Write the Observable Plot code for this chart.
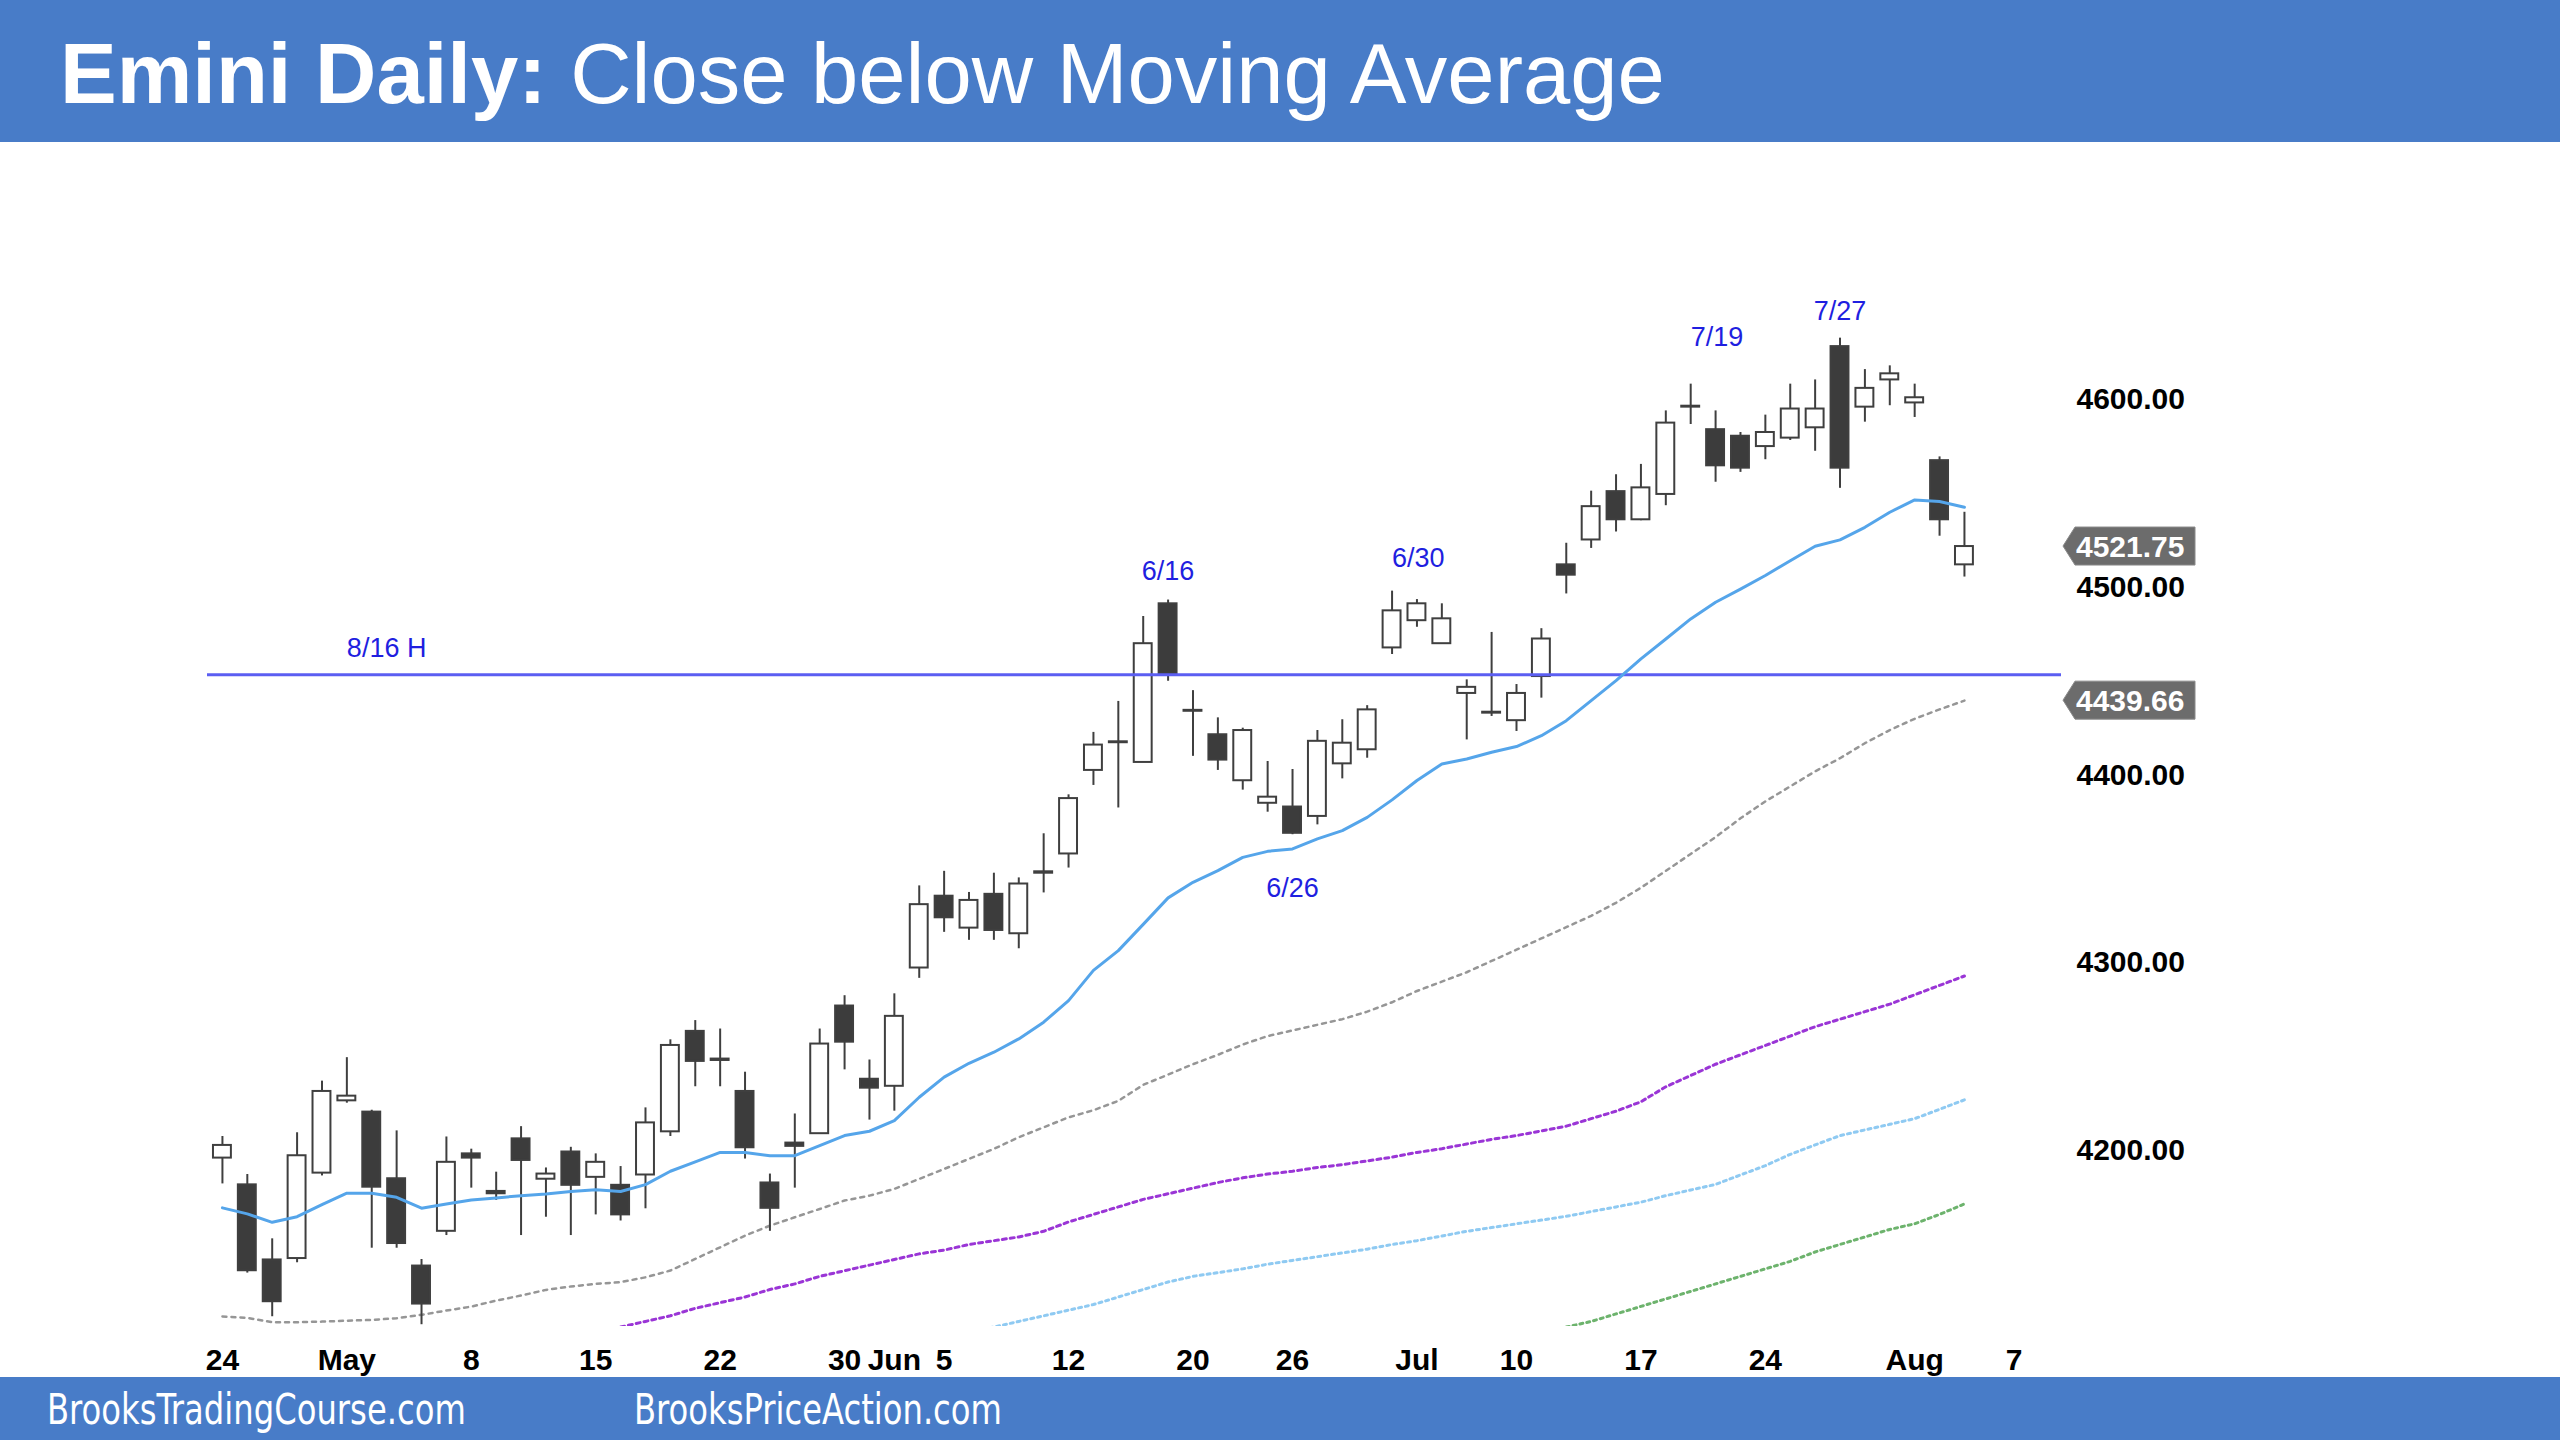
<!DOCTYPE html>
<html><head><meta charset="utf-8">
<script src="https://cdn.jsdelivr.net/npm/d3@7"></script>
<script src="https://cdn.jsdelivr.net/npm/@observablehq/plot@0.6"></script>
<style>
html,body{margin:0;padding:0;background:#fff;width:2560px;height:1440px;overflow:hidden}
#title{height:142px;background:#487cc8;color:#fff;font-family:"Liberation Sans",Arial,sans-serif;font-size:85px;display:flex;align-items:center;padding-left:60px;padding-top:6px;box-sizing:border-box;white-space:nowrap}
#title b{font-weight:bold}
#chart{height:1235px;line-height:0}
#footer{height:63px;background:#487cc8;color:#fff;font-family:"Liberation Sans Narrow","DejaVu Sans Condensed",sans-serif;font-size:42px;position:relative}
#footer span{position:absolute;top:50%;transform-origin:0 50%;transform:translateY(-50%) scaleX(0.853);white-space:nowrap}
</style></head>
<body>
<div id="title"><b>Emini Daily:</b>&nbsp;Close below Moving Average</div>
<div id="chart"></div>
<div id="footer"><span style="left:47px">BrooksTradingCourse.com</span><span style="left:634px">BrooksPriceAction.com</span></div>
<script>
// trading days (71 candles + 2 future axis days)
const days = [
"2023-04-24","2023-04-25","2023-04-26","2023-04-27","2023-04-28",
"2023-05-01","2023-05-02","2023-05-03","2023-05-04","2023-05-05",
"2023-05-08","2023-05-09","2023-05-10","2023-05-11","2023-05-12",
"2023-05-15","2023-05-16","2023-05-17","2023-05-18","2023-05-19",
"2023-05-22","2023-05-23","2023-05-24","2023-05-25","2023-05-26",
"2023-05-30","2023-05-31","2023-06-01","2023-06-02",
"2023-06-05","2023-06-06","2023-06-07","2023-06-08","2023-06-09",
"2023-06-12","2023-06-13","2023-06-14","2023-06-15","2023-06-16",
"2023-06-20","2023-06-21","2023-06-22","2023-06-23",
"2023-06-26","2023-06-27","2023-06-28","2023-06-29","2023-06-30",
"2023-07-03","2023-07-05","2023-07-06","2023-07-07",
"2023-07-10","2023-07-11","2023-07-12","2023-07-13","2023-07-14",
"2023-07-17","2023-07-18","2023-07-19","2023-07-20","2023-07-21",
"2023-07-24","2023-07-25","2023-07-26","2023-07-27","2023-07-28",
"2023-07-31","2023-08-01","2023-08-02","2023-08-03",
"2023-08-04","2023-08-07"];

const open = [4196,4181.75,4141.75,4142.5,4188,4226.5,4220.5,4185,4138.5,4157,
4198.25,4178.25,4206.25,4184.75,4199.25,4185.75,4181.5,4187,4210,4263.5,
4248,4231.5,4182.75,4204,4209,4277,4238,4234.25,4297.25,4335.5,
4318.5,4336.5,4315.5,4348.5,4358,4402.5,4417.75,4406.75,4491.25,4434.5,
4421.5,4397,4385,4383,4378,4406,4413.5,4467.75,4482.25,4470,
4443.5,4433.5,4429,4452.5,4512,4525.25,4551,4536,4549.5,4596,
4584,4580.5,4575,4579.5,4585,4628.25,4596,4610.5,4598.25,4567.5,
4512];
const high = [4207.5,4187.25,4153,4209.5,4237,4249.5,4221.5,4210.5,4142,4207.25,
4200.75,4188.5,4212.75,4190.75,4201.75,4198.25,4191.5,4222.75,4259,4269.25,
4264.75,4241.75,4187.5,4219.5,4264.75,4282.5,4248.25,4283.5,4341,4348.75,
4337.5,4347.75,4345.25,4368.75,4389.5,4422.75,4439.25,4484.5,4493.25,4445,
4430.5,4425,4407.25,4403,4423.75,4429.5,4437,4498,4493.5,4491.25,
4450.75,4476,4448.25,4478,4523.5,4551.25,4560,4565.5,4594,4608.25,
4594,4582.5,4591.75,4608.25,4610.5,4632.75,4616,4618,4608.25,4569.5,
4540];
const low = [4182.25,4134.75,4111.5,4140.25,4186.5,4225.25,4148,4148,4107.25,4154.75,
4180,4173.5,4154.75,4164.5,4154.75,4165.75,4162.5,4169,4207.5,4234,
4234,4195.5,4157,4180,4208.75,4243,4216.25,4221,4291.75,4316.25,
4312,4312,4307.5,4337.25,4350.5,4394.5,4382.5,4406.75,4450,4410,
4402.5,4392,4380.25,4368.25,4373.5,4398,4409,4464.25,4478.75,4470,
4418.75,4431.25,4423.25,4441,4496.5,4520.75,4529.5,4535.5,4543.5,4586.75,
4556,4561.25,4568,4578.25,4572.5,4552.75,4588,4596.75,4590.5,4527.25,
4505.5];
const close = [4202.75,4136,4119.5,4197.25,4231.5,4229,4180.5,4150.5,4118.25,4193.75,
4196,4177,4194.75,4187.5,4181.5,4193.75,4165.75,4214.75,4256,4247.5,
4248.75,4201.5,4169.25,4202.25,4256.75,4257.75,4233.25,4271.5,4331,4324,
4333.25,4317.25,4342,4347.75,4387.5,4416,4417.25,4470,4454,4434,
4408,4423.75,4388.25,4369,4418,4417,4434.75,4487.5,4491.25,4483.25,
4446.75,4433,4443.5,4472.5,4506.5,4543,4536,4553,4587.5,4596.5,
4564.75,4563.5,4582.5,4595,4595,4563.5,4606,4613.75,4601,4536,
4521.75];

// moving averages
const maBlue = [4169.5,4166.3,4161.8,4164.8,4171.2,4177.3,4177.3,4175.1,4169.3,4171.6,
4173.7,4174.8,4176.0,4176.9,4178.2,4179.2,4178.2,4181.9,4189.0,4194.0,
4199.0,4199.0,4197.3,4197.3,4202.7,4208.0,4210.3,4216.0,4228.4,4239.1,
4246.5,4252.4,4259.5,4268.4,4279.9,4296.0,4306.5,4320.5,4334.6,4342.9,
4349.1,4356.2,4359.4,4360.7,4366.0,4370.4,4377.5,4386.8,4397.1,4405.9,
4408.6,4412.2,4415.2,4421.0,4429.0,4439.7,4450.3,4461.9,4472.5,4483.2,
4492.1,4499.1,4506.3,4514.2,4521.9,4525.3,4532.0,4540.0,4546.6,4545.7,
4542.7];
const maGray = [4111.6,4110.9,4108.6,4108.6,4108.9,4109.4,4109.8,4110.7,4112.5,4114.8,
4116.9,4120.1,4122.8,4125.8,4127.6,4129.0,4129.9,4132.5,4136.1,4142.3,
4148.5,4154.7,4160.0,4164.5,4168.9,4173.4,4176.0,4179.6,4184.9,4190.2,
4195.6,4200.9,4207.1,4212.4,4217.7,4221.5,4226.5,4235.0,4240.5,4246.0,
4251.0,4256.5,4261.0,4264.0,4267.0,4270.0,4274.0,4279.0,4285.0,4290.0,
4295.0,4301.0,4307.0,4313.0,4319.0,4325.0,4332.0,4340.0,4349.0,4358.0,
4367.0,4377.0,4386.0,4394.0,4402.0,4409.0,4417.0,4424.0,4430.0,4435.0,
4439.66];
const purpleStart = "2023-05-16";
const maPurple = [4106,4109,4112,4116,4119,4122,4126,4129,4133,4136,
4139,4142,4145,4147,4150,4152,4154,4157,4162,4166,
4170,4174,4177,4180,4183,4185.5,4187.5,4189,4191,4192.5,
4194.5,4196.5,4199,4201,4203.5,4206,4208,4210.5,4213,4217,
4221,4226,4234,4240,4246,4251,4256,4261,4266,4270,
4274,4278,4283,4288,4293];
const lightStart = "2023-06-06";
const maLight = [4104,4106,4109,4112,4115,4118,4122,4126,4130,4133,
4135,4137,4139.5,4141.5,4143.5,4145.5,4147.5,4150,4152,4154.5,
4157,4159,4161,4163,4165,4167.5,4170,4172.5,4176,4179,
4182,4187,4192,4198,4203,4208,4211,4214,4217,4222,4227];
const greenStart = "2023-07-12";
const maGreen = [4106,4109,4113,4117,4121,4125,4129,4133,4137,4141,4146,4150,4154,4158,4161,4166,4171.6];

const tickDays = ["2023-04-24","2023-05-01","2023-05-08","2023-05-15","2023-05-22","2023-05-30","2023-06-01","2023-06-05","2023-06-12","2023-06-20","2023-06-26","2023-07-03","2023-07-10","2023-07-17","2023-07-24","2023-08-01","2023-08-07"];
const tickLabels = ["24","May","8","15","22","30","Jun","5","12","20","26","Jul","10","17","24","Aug","7"];
const priceTicks = [4200,4300,4400,4500,4600];

const levelPrice = 4453.5;
const noteLabels = ["8/16 H","6/16","6/26","6/30","7/19","7/27"];
const noteDays = ["2023-05-01","2023-06-16","2023-06-26","2023-06-30","2023-07-19","2023-07-27"];
const notePrices = [4467.5,4508.5,4339.5,4515.5,4633,4647];
const noteAnchors = ["start","middle","middle","start","start","middle"];

// ---- build
const idx = new Map(days.map((d,i)=>[d,i]));
const candles = open.map((o,i)=>({i, o, h:high[i], l:low[i], c:close[i], fill: close[i] >= o ? "#ffffff" : "#3c3c3c"}));
const series = (arr, startDay) => arr.map((v,k)=>({i: idx.get(startDay)+k, v}));
const notes = noteLabels.map((t,k)=>({t, i: idx.get(noteDays[k]), p: notePrices[k], a: noteAnchors[k]}));
const tickIdx = tickDays.map(d=>idx.get(d));
const tickMap = new Map(tickIdx.map((v,k)=>[v, tickLabels[k]]));
const FONT = '"Liberation Sans", Arial, Helvetica, sans-serif';

const chart = Plot.plot({
  width: 2560, height: 1235,
  marginLeft: 207, marginRight: 499, marginTop: 100, marginBottom: 51,
  x: {domain: [-0.6, 73.9]},
  y: {domain: [4106.3, 4683.7]},
  style: {fontFamily: FONT, fontSize: "30px", fontWeight: "bold", color: "#000", background: "#fff", overflow: "visible"},
  marks: [
    Plot.line(series(maGreen, greenStart), {x:"i", y:"v", stroke:"#6db36d", strokeWidth:3, strokeDasharray:"3,4", clip:true}),
    Plot.line(series(maLight, lightStart), {x:"i", y:"v", stroke:"#8fcaf2", strokeWidth:3, strokeDasharray:"3,4", clip:true}),
    Plot.line(series(maPurple, purpleStart), {x:"i", y:"v", stroke:"#9a35d6", strokeWidth:3, strokeDasharray:"4,4", clip:true}),
    Plot.line(series(maGray, days[0]), {x:"i", y:"v", stroke:"#969696", strokeWidth:2.5, strokeDasharray:"4,5", clip:true}),
    Plot.ruleX(candles, {x:"i", y1:"l", y2:"h", stroke:"#3f3f3f", strokeWidth:2}),
    Plot.rect(candles, {x1: d=>d.i-0.36, x2: d=>d.i+0.36, y1:"o", y2:"c", fill:"fill", stroke:"#3f3f3f", strokeWidth:2}),
    Plot.ruleY([levelPrice], {stroke:"#5b5ef2", strokeWidth:3}),
    Plot.line(series(maBlue, days[0]), {x:"i", y:"v", stroke:"#55a5ea", strokeWidth:3, clip:true}),
    Plot.text(notes.filter(d=>d.a==="middle"), {x:"i", y:"p", text:"t", textAnchor:"middle", fill:"#1f1fe0", fontSize:27, fontWeight:"normal"}),
    Plot.text(notes.filter(d=>d.a==="start"), {x:"i", y:"p", text:"t", textAnchor:"start", fill:"#1f1fe0", fontSize:27, fontWeight:"normal"}),
    Plot.axisX({ticks: tickIdx, tickFormat: v => tickMap.get(v), tickSize: 0, tickPadding: 22, label: null}),
    Plot.axisY({anchor: "right", ticks: priceTicks, tickFormat: v => v.toFixed(2), tickSize: 0, tickPadding: 15, label: null})
  ]
});
document.getElementById("chart").appendChild(chart);

// price tags on the right axis, positioned by the plot's own scales
const ys = chart.scale("y"), xs = chart.scale("x");
const xr = xs.range[1];
const tags = [close[close.length-1], maGray[maGray.length-1]];
const g = d3.select(chart).append("g").attr("text-anchor", "start");
tags.forEach(v => {
  const y = ys.apply(v);
  g.append("path")
    .attr("d", `M${xr+2},${y} L${xr+14},${y-19} L${xr+134},${y-19} L${xr+134},${y+19} L${xr+14},${y+19} Z`)
    .attr("fill", "#6c6c6c").attr("stroke", "#8a8a8a").attr("stroke-width", 1);
  g.append("text")
    .attr("x", xr+15).attr("y", y).attr("dy", "0.35em").attr("text-anchor", "start")
    .attr("fill", "#fff").attr("font-family", FONT).attr("font-size", 30).attr("font-weight", "bold")
    .text(v.toFixed(2));
});
</script>
</body></html>
